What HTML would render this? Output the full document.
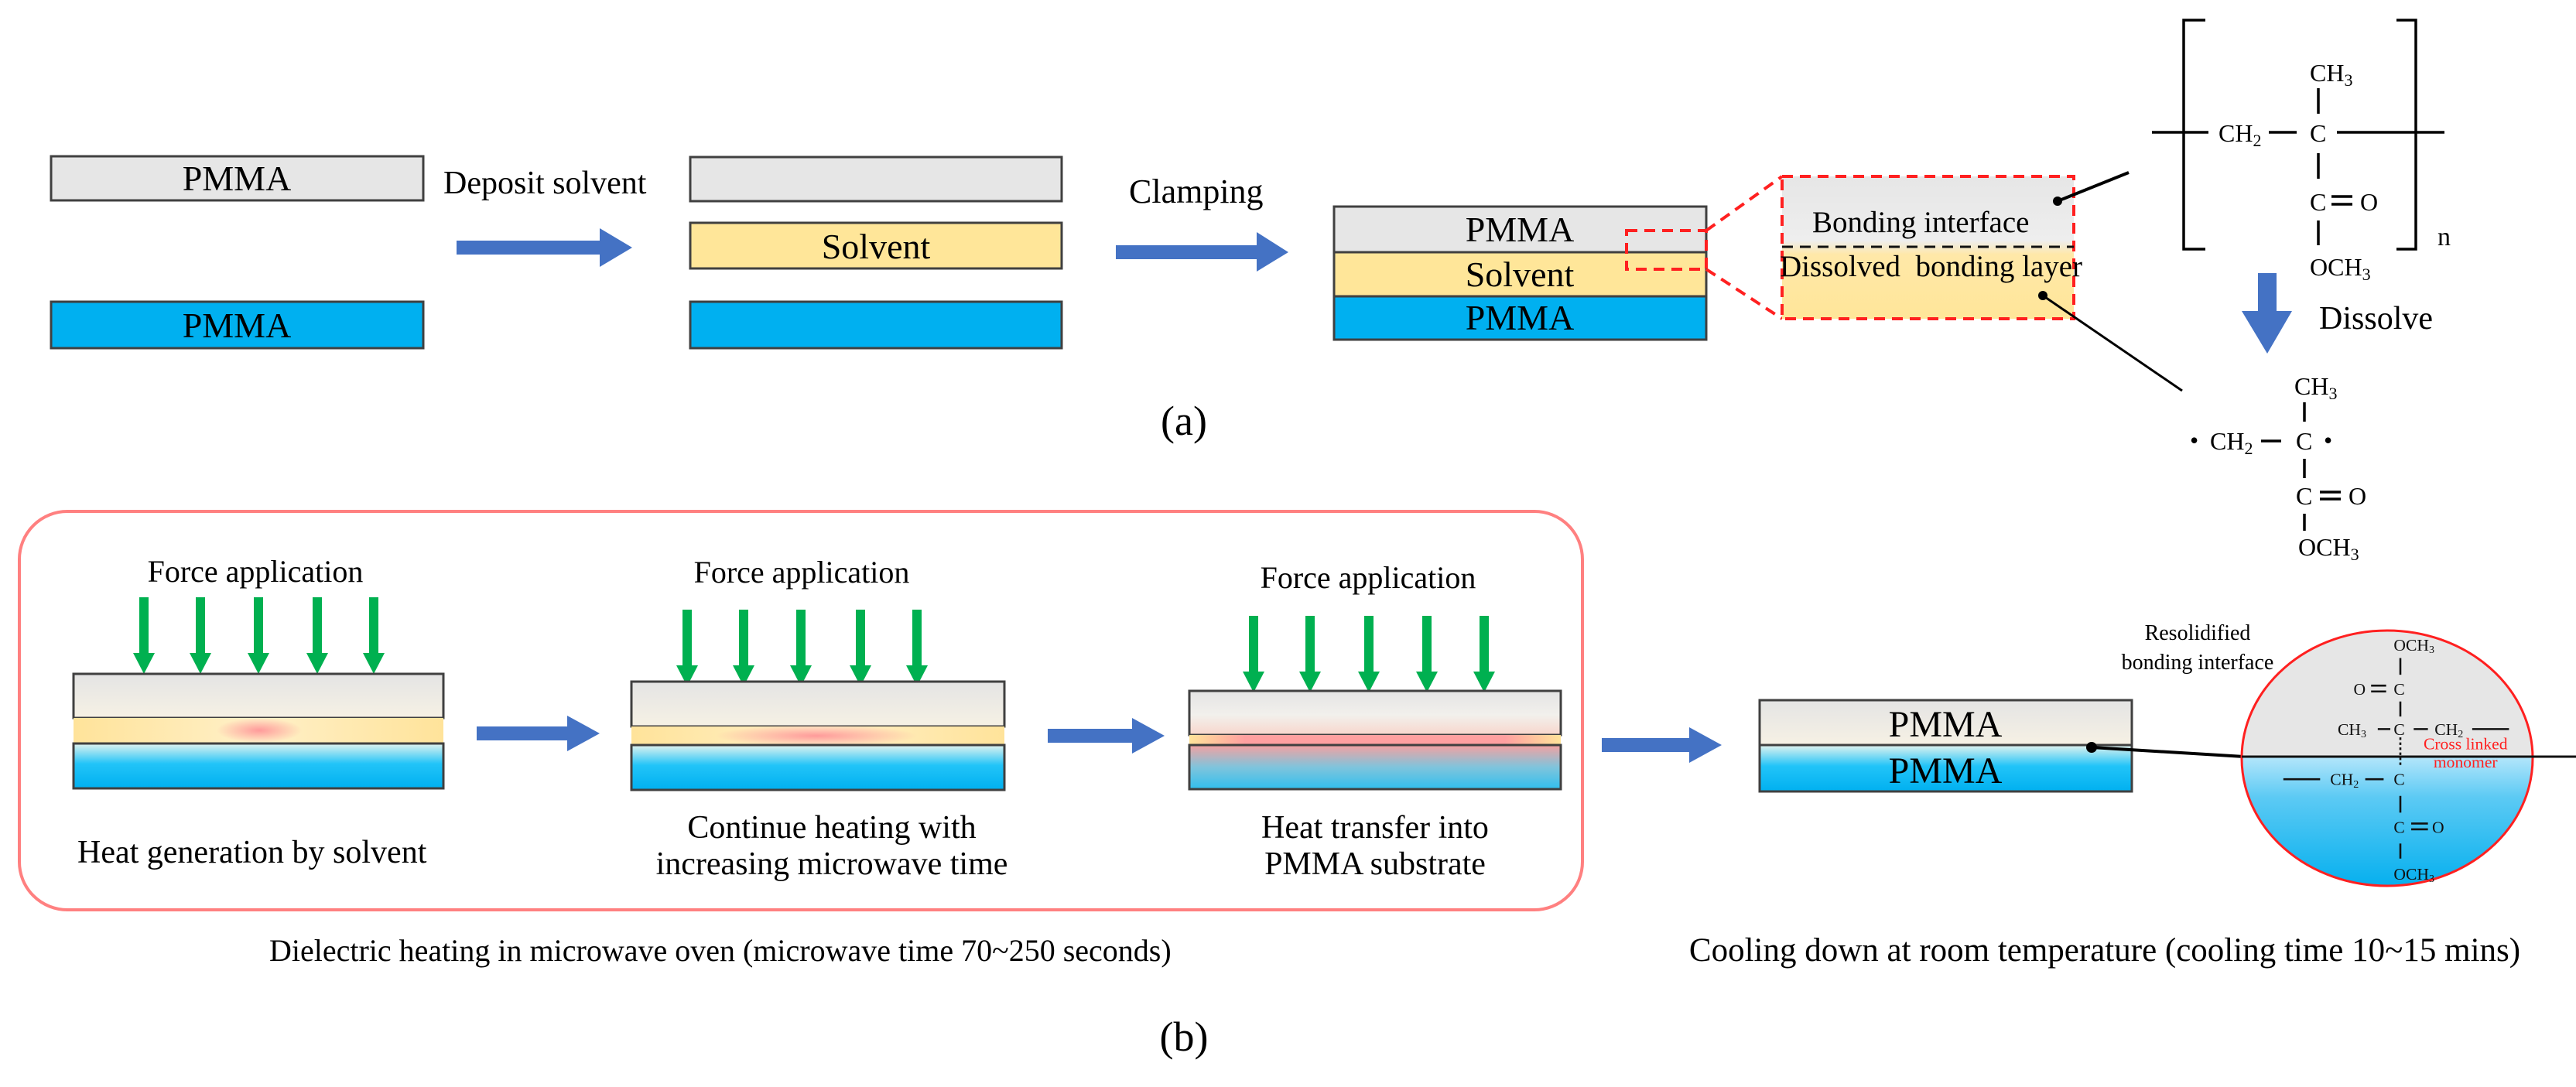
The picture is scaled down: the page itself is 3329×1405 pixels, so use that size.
<!DOCTYPE html>
<html><head><meta charset="utf-8"><style>html,body{margin:0;padding:0;background:#fff}svg{display:block}</style></head>
<body>
<svg width="3329" height="1405" viewBox="0 0 3329 1405" xmlns="http://www.w3.org/2000/svg" style="font-family:'Liberation Serif',serif">
<defs>
<g id="ga"><rect x="-6" y="0" width="12" height="74"/><polygon points="-14,72 14,72 0,99"/></g>
<linearGradient id="gr" x1="0" y1="0" x2="0" y2="1"><stop offset="0" stop-color="#e4e4e4"/><stop offset="1" stop-color="#f6f1e4"/></linearGradient>
<linearGradient id="bl" x1="0" y1="0" x2="0" y2="1"><stop offset="0" stop-color="#e2f3ee"/><stop offset="0.45" stop-color="#22c4f8"/><stop offset="1" stop-color="#00b0f0"/></linearGradient>
<linearGradient id="gr3" x1="0" y1="0" x2="0" y2="1"><stop offset="0" stop-color="#e4e4e4"/><stop offset="0.55" stop-color="#f2f0ec"/><stop offset="1" stop-color="#f8d6cc"/></linearGradient>
<linearGradient id="bl3" x1="0" y1="0" x2="0" y2="1"><stop offset="0" stop-color="#f4a0a0"/><stop offset="0.5" stop-color="#80c4dc"/><stop offset="1" stop-color="#30bfee"/></linearGradient>
<linearGradient id="y3" x1="0" y1="0" x2="1" y2="0"><stop offset="0" stop-color="#ffe39a"/><stop offset="0.15" stop-color="#ffa0a0"/><stop offset="0.85" stop-color="#ffa0a0"/><stop offset="1" stop-color="#ffe39a"/></linearGradient>
<radialGradient id="hot1" cx="0.5" cy="0.5" r="0.5"><stop offset="0" stop-color="#ff9a9a"/><stop offset="1" stop-color="#ff9a9a" stop-opacity="0"/></radialGradient>
<linearGradient id="ybg" x1="0" y1="0" x2="1" y2="0"><stop offset="0" stop-color="#ffe39a"/><stop offset="0.5" stop-color="#fff0c8"/><stop offset="1" stop-color="#ffe39a"/></linearGradient>
<linearGradient id="box" x1="0" y1="0" x2="0" y2="1"><stop offset="0" stop-color="#e6e6e6"/><stop offset="0.45" stop-color="#eeeeee"/><stop offset="0.55" stop-color="#ffe8a8"/><stop offset="1" stop-color="#ffe699"/></linearGradient>
<linearGradient id="ellB" x1="0" y1="0" x2="0" y2="1"><stop offset="0" stop-color="#b4e6fb"/><stop offset="0.3" stop-color="#5ccaf4"/><stop offset="1" stop-color="#00aeee"/></linearGradient>
<clipPath id="ec"><ellipse cx="3085" cy="980" rx="188" ry="165"/></clipPath>
</defs>

<rect x="66" y="202" width="481" height="57" fill="#e6e6e6" stroke="#404040" stroke-width="3"/>
<text x="306" y="246" font-size="46" text-anchor="middle">PMMA</text>
<rect x="66" y="390" width="481" height="60" fill="#00b0f0" stroke="#404040" stroke-width="3"/>
<text x="306" y="436" font-size="46" text-anchor="middle">PMMA</text>

<text x="573" y="250" font-size="42">Deposit solvent</text>
<polygon points="590,311 775,311 775,295 817,320 775,345 775,329 590,329" fill="#4472c4"/>

<rect x="892" y="203" width="480" height="57" fill="#e6e6e6" stroke="#404040" stroke-width="3"/>
<rect x="892" y="288" width="480" height="59" fill="#ffe699" stroke="#404040" stroke-width="3"/>
<text x="1132" y="334" font-size="46" text-anchor="middle">Solvent</text>
<rect x="892" y="390" width="480" height="60" fill="#00b0f0" stroke="#404040" stroke-width="3"/>

<text x="1459" y="262" font-size="44">Clamping</text>
<polygon points="1442,317 1624,317 1624,300 1665,326 1624,351 1624,335 1442,335" fill="#4472c4"/>

<rect x="1724" y="267" width="481" height="59" fill="#e6e6e6" stroke="#404040" stroke-width="3"/>
<rect x="1724" y="326" width="481" height="57" fill="#ffe699" stroke="#404040" stroke-width="3"/>
<rect x="1724" y="383" width="481" height="56" fill="#00b0f0" stroke="#404040" stroke-width="3"/>
<text x="1964" y="312" font-size="46" text-anchor="middle">PMMA</text>
<text x="1964" y="370" font-size="46" text-anchor="middle">Solvent</text>
<text x="1964" y="426" font-size="46" text-anchor="middle">PMMA</text>

<g stroke="#ff2020" stroke-width="4" stroke-dasharray="14,9" fill="none">
<rect x="2102" y="298" width="103" height="50"/>
<line x1="2205" y1="298" x2="2303" y2="228"/>
<line x1="2205" y1="348" x2="2303" y2="412"/>
</g>
<rect x="2303" y="228" width="377" height="184" fill="url(#box)"/>
<rect x="2303" y="228" width="377" height="184" fill="none" stroke="#ff2020" stroke-width="4" stroke-dasharray="14,9"/>
<line x1="2303" y1="319" x2="2680" y2="319" stroke="#111" stroke-width="3" stroke-dasharray="14,9"/>
<text x="2342" y="300" font-size="39">Bonding interface</text>
<text x="2300" y="357" font-size="39" xml:space="preserve">Dissolved  bonding layer</text>
<circle cx="2659" cy="260" r="6" fill="#000"/>
<line x1="2659" y1="260" x2="2751" y2="223" stroke="#000" stroke-width="4"/>
<circle cx="2640" cy="382" r="6" fill="#000"/>
<line x1="2640" y1="382" x2="2820" y2="505" stroke="#000" stroke-width="3"/>

<g stroke="#000" stroke-width="3.5" fill="none">
<path d="M2850,26 H2822 V322 H2850"/>
<path d="M3097,26 H3122 V322 H3097"/>
<line x1="2781" y1="171" x2="2854" y2="171"/>
<line x1="2932" y1="171" x2="2968" y2="171"/>
<line x1="3020" y1="171" x2="3159" y2="171"/>
<line x1="2996" y1="114" x2="2996" y2="147"/>
<line x1="2996" y1="198" x2="2996" y2="231"/>
<line x1="2996" y1="285" x2="2996" y2="317"/>
<line x1="3013" y1="254" x2="3040" y2="254"/>
<line x1="3013" y1="264" x2="3040" y2="264"/>
</g>
<g font-size="32">
<text x="2867" y="183">CH<tspan font-size="22" dy="6">2</tspan></text>
<text x="2985" y="183">C</text>
<text x="2985" y="105">CH<tspan font-size="22" dy="6">3</tspan></text>
<text x="2985" y="272">C</text>
<text x="3050" y="272">O</text>
<text x="2985" y="356">OCH<tspan font-size="22" dy="6">3</tspan></text>
<text x="3150" y="317" font-size="34">n</text>
</g>

<polygon points="2918,353 2942,353 2942,402 2962,402 2930,457 2897,402 2918,402" fill="#4472c4"/>
<text x="2997" y="425" font-size="42">Dissolve</text>

<g stroke="#000" stroke-width="3.5">
<line x1="2978" y1="520" x2="2978" y2="545"/>
<line x1="2922" y1="570" x2="2948" y2="570"/>
<line x1="2978" y1="593" x2="2978" y2="618"/>
<line x1="2998" y1="636" x2="3025" y2="636"/>
<line x1="2998" y1="645" x2="3025" y2="645"/>
<line x1="2978" y1="664" x2="2978" y2="686"/>
</g>
<g font-size="32">
<text x="2965" y="510">CH<tspan font-size="22" dy="6">3</tspan></text>
<text x="2830" y="580">•</text>
<text x="2856" y="581">CH<tspan font-size="22" dy="6">2</tspan></text>
<text x="2967" y="581">C</text>
<text x="3003" y="580">•</text>
<text x="2967" y="652">C</text>
<text x="3035" y="652">O</text>
<text x="2970" y="718">OCH<tspan font-size="22" dy="6">3</tspan></text>
</g>

<text x="1530" y="562" font-size="54" text-anchor="middle">(a)</text>

<rect x="25" y="661" width="2020" height="515" rx="62" fill="none" stroke="#ff8080" stroke-width="4"/>

<text x="330" y="752" font-size="40" text-anchor="middle">Force application</text>
<g fill="#00b050">
<use href="#ga" x="186" y="772"/><use href="#ga" x="259" y="772"/><use href="#ga" x="334" y="772"/><use href="#ga" x="410" y="772"/><use href="#ga" x="483" y="772"/>
</g>
<rect x="95" y="871" width="478" height="57" fill="url(#gr)" stroke="#404040" stroke-width="3"/>
<rect x="95" y="928" width="478" height="33" fill="url(#ybg)"/>
<ellipse cx="335" cy="944" rx="55" ry="16" fill="url(#hot1)"/>
<rect x="95" y="961" width="478" height="58" fill="url(#bl)" stroke="#404040" stroke-width="3"/>
<text x="100" y="1115" font-size="42">Heat generation by solvent</text>

<polygon points="616,939 733,939 733,925 775,948 733,971 733,957 616,957" fill="#4472c4"/>

<text x="1036" y="753" font-size="40" text-anchor="middle">Force application</text>
<g fill="#00b050">
<use href="#ga" x="888" y="788"/><use href="#ga" x="961" y="788"/><use href="#ga" x="1035" y="788"/><use href="#ga" x="1112" y="788"/><use href="#ga" x="1185" y="788"/>
</g>
<rect x="816" y="881" width="482" height="58" fill="url(#gr)" stroke="#404040" stroke-width="3"/>
<rect x="816" y="939" width="482" height="24" fill="url(#ybg)"/>
<ellipse cx="1055" cy="951" rx="130" ry="14" fill="url(#hot1)"/>
<rect x="816" y="963" width="482" height="58" fill="url(#bl)" stroke="#404040" stroke-width="3"/>
<text x="1075" y="1083" font-size="42" text-anchor="middle">Continue heating with</text>
<text x="1075" y="1130" font-size="42" text-anchor="middle">increasing microwave time</text>

<polygon points="1354,942 1463,942 1463,928 1505,951 1463,974 1463,960 1354,960" fill="#4472c4"/>

<text x="1768" y="760" font-size="40" text-anchor="middle">Force application</text>
<g fill="#00b050">
<use href="#ga" x="1620" y="796"/><use href="#ga" x="1693" y="796"/><use href="#ga" x="1769" y="796"/><use href="#ga" x="1844" y="796"/><use href="#ga" x="1918" y="796"/>
</g>
<rect x="1537" y="893" width="480" height="57" fill="url(#gr3)" stroke="#404040" stroke-width="3"/>
<rect x="1537" y="950" width="480" height="13" fill="url(#y3)"/>
<rect x="1537" y="963" width="480" height="57" fill="url(#bl3)" stroke="#404040" stroke-width="3"/>
<text x="1777" y="1083" font-size="42" text-anchor="middle">Heat transfer into</text>
<text x="1777" y="1130" font-size="42" text-anchor="middle">PMMA substrate</text>

<polygon points="2070,954 2183,954 2183,940 2225,963 2183,986 2183,972 2070,972" fill="#4472c4"/>

<rect x="2274" y="905" width="481" height="58" fill="url(#gr)" stroke="#404040" stroke-width="3"/>
<rect x="2274" y="963" width="481" height="60" fill="url(#bl)" stroke="#404040" stroke-width="3"/>
<text x="2514" y="952" font-size="48" text-anchor="middle">PMMA</text>
<text x="2514" y="1012" font-size="48" text-anchor="middle">PMMA</text>
<circle cx="2703" cy="966" r="7" fill="#000"/>
<line x1="2703" y1="966" x2="2900" y2="978" stroke="#000" stroke-width="4"/>
<text x="2840" y="827" font-size="28" text-anchor="middle">Resolidified</text>
<text x="2840" y="865" font-size="28" text-anchor="middle">bonding interface</text>

<g clip-path="url(#ec)">
<rect x="2890" y="805" width="400" height="173" fill="#e6e6e6"/>
<rect x="2890" y="978" width="400" height="175" fill="url(#ellB)"/>
</g>
<ellipse cx="3085" cy="980" rx="188" ry="165" fill="none" stroke="#ff2020" stroke-width="3"/>
<line x1="2897" y1="978" x2="3329" y2="978" stroke="#111" stroke-width="3"/>
<g transform="translate(3102,978) scale(1.08) translate(-3102,-978)">
<g stroke="#111" stroke-width="2.4">
<line x1="3102" y1="860" x2="3102" y2="880"/>
<line x1="3067" y1="893" x2="3085" y2="893"/><line x1="3067" y1="900" x2="3085" y2="900"/>
<line x1="3102" y1="912" x2="3102" y2="930"/>
<line x1="3075" y1="945" x2="3090" y2="945"/>
<line x1="3118" y1="945" x2="3135" y2="945"/>
<line x1="3188" y1="945" x2="3232" y2="945"/>
<line x1="3102" y1="955" x2="3102" y2="990" stroke-dasharray="3,3"/>
<line x1="2962" y1="1005" x2="3006" y2="1005"/>
<line x1="3060" y1="1005" x2="3082" y2="1005"/>
<line x1="3102" y1="1025" x2="3102" y2="1045"/>
<line x1="3115" y1="1058" x2="3135" y2="1058"/><line x1="3115" y1="1065" x2="3135" y2="1065"/>
<line x1="3102" y1="1082" x2="3102" y2="1100"/>
</g>
<g font-size="20" fill="#111">
<text x="3094" y="851">OCH<tspan font-size="13" dy="3">3</tspan></text>
<text x="3046" y="904">O</text><text x="3094" y="904">C</text>
<text x="3027" y="952">CH<tspan font-size="13" dy="3">3</tspan></text>
<text x="3094" y="952">C</text>
<text x="3143" y="952">CH<tspan font-size="13" dy="3">2</tspan></text>
<text x="3018" y="1012">CH<tspan font-size="13" dy="3">2</tspan></text>
<text x="3094" y="1012">C</text>
<text x="3094" y="1069">C</text><text x="3140" y="1069">O</text>
<text x="3094" y="1125">OCH<tspan font-size="13" dy="3">3</tspan></text>
</g>
<text x="3180" y="969" font-size="20" fill="#ff2020" text-anchor="middle">Cross linked</text>
<text x="3180" y="991" font-size="20" fill="#ff2020" text-anchor="middle">monomer</text>
</g>

<text x="348" y="1242" font-size="40">Dielectric heating in microwave oven (microwave time 70~250 seconds)</text>
<text x="2720" y="1242" font-size="43" text-anchor="middle">Cooling down at room temperature (cooling time 10~15 mins)</text>
<text x="1530" y="1358" font-size="54" text-anchor="middle">(b)</text>
</svg>
</body></html>
